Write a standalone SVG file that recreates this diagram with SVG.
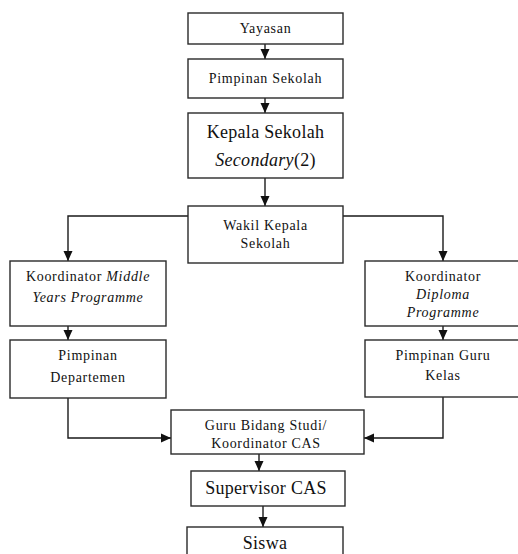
<svg xmlns="http://www.w3.org/2000/svg" width="518" height="554" viewBox="0 0 518 554">
<defs>
<style>
.box{fill:#fff;stroke:#2a2a2a;stroke-width:1.4}
text{font-family:'Liberation Serif','DejaVu Serif',serif}
.t{font-size:14px;letter-spacing:0.7px;fill:#111;text-anchor:middle}
.L{font-size:18px;letter-spacing:0.3px}
.i{font-style:italic}
.c{fill:none;stroke:#1a1a1a;stroke-width:1.4}
</style>
<marker id="ah" markerUnits="userSpaceOnUse" markerWidth="10" markerHeight="10" viewBox="0 0 10 10" refX="10" refY="5" orient="auto">
<path d="M0,0.5 L10,5 L0,9.5 Z" fill="#111"/>
</marker>
</defs>
<rect width="518" height="554" fill="#fff"/>
<g id="connectors">
<path class="c" d="M265,44 V59" marker-end="url(#ah)"/>
<path class="c" d="M265,98 V113" marker-end="url(#ah)"/>
<path class="c" d="M265,178 V206" marker-end="url(#ah)"/>
<path class="c" d="M188,216 H68 V261" marker-end="url(#ah)"/>
<path class="c" d="M343,216 H443 V261" marker-end="url(#ah)"/>
<path class="c" d="M68,326 V340" marker-end="url(#ah)"/>
<path class="c" d="M443,326 V340" marker-end="url(#ah)"/>
<path class="c" d="M68,398 V438 H171" marker-end="url(#ah)"/>
<path class="c" d="M443,397 V438 H364" marker-end="url(#ah)"/>
<path class="c" d="M259,454 V471" marker-end="url(#ah)"/>
<path class="c" d="M263,506 V527" marker-end="url(#ah)"/>
</g>
<g font-family="Liberation Serif, DejaVu Serif, serif">
<g id="yayasan">
<rect class="box" x="188" y="13" width="155" height="31"/>
<text class="t" x="265.5" y="33">Yayasan</text>
</g>
<g id="pimpinan-sekolah">
<rect class="box" x="188" y="59" width="155" height="39"/>
<text class="t" x="265.5" y="83">Pimpinan Sekolah</text>
</g>
<g id="kepala-sekolah">
<rect class="box" x="188" y="113" width="155" height="65"/>
<text class="t L" x="265.5" y="138">Kepala Sekolah</text>
<text class="t L" x="265.5" y="166"><tspan class="i">Secondary</tspan>(2)</text>
</g>
<g id="wakil-kepala">
<rect class="box" x="188" y="206" width="155" height="57"/>
<text class="t" x="265.5" y="230">Wakil Kepala</text>
<text class="t" x="265.5" y="248">Sekolah</text>
</g>
<g id="koordinator-myp">
<rect class="box" x="10" y="261" width="156" height="65"/>
<text class="t" x="88" y="281">Koordinator <tspan class="i">Middle</tspan></text>
<text class="t i" x="88" y="302">Years Programme</text>
</g>
<g id="koordinator-dp">
<rect class="box" x="365" y="261" width="157" height="65"/>
<text class="t" x="443" y="281">Koordinator</text>
<text class="t i" x="443" y="299">Diploma</text>
<text class="t i" x="443" y="317">Programme</text>
</g>
<g id="pimpinan-departemen">
<rect class="box" x="10" y="340" width="156" height="58"/>
<text class="t" x="88" y="360">Pimpinan</text>
<text class="t" x="88" y="382">Departemen</text>
</g>
<g id="pimpinan-guru-kelas">
<rect class="box" x="365" y="340" width="157" height="57"/>
<text class="t" x="443" y="360">Pimpinan Guru</text>
<text class="t" x="443" y="380">Kelas</text>
</g>
<g id="guru-bidang-studi">
<rect class="box" x="171" y="410" width="193" height="44"/>
<text class="t" x="266" y="430">Guru Bidang Studi/</text>
<text class="t" x="266" y="448">Koordinator CAS</text>
</g>
<g id="supervisor-cas">
<rect class="box" x="191" y="471" width="154" height="35"/>
<text class="t L" x="266" y="494">Supervisor CAS</text>
</g>
<g id="siswa">
<rect class="box" x="187" y="527" width="156" height="40"/>
<text class="t L" x="265" y="549">Siswa</text>
</g>
</g>
</svg>
